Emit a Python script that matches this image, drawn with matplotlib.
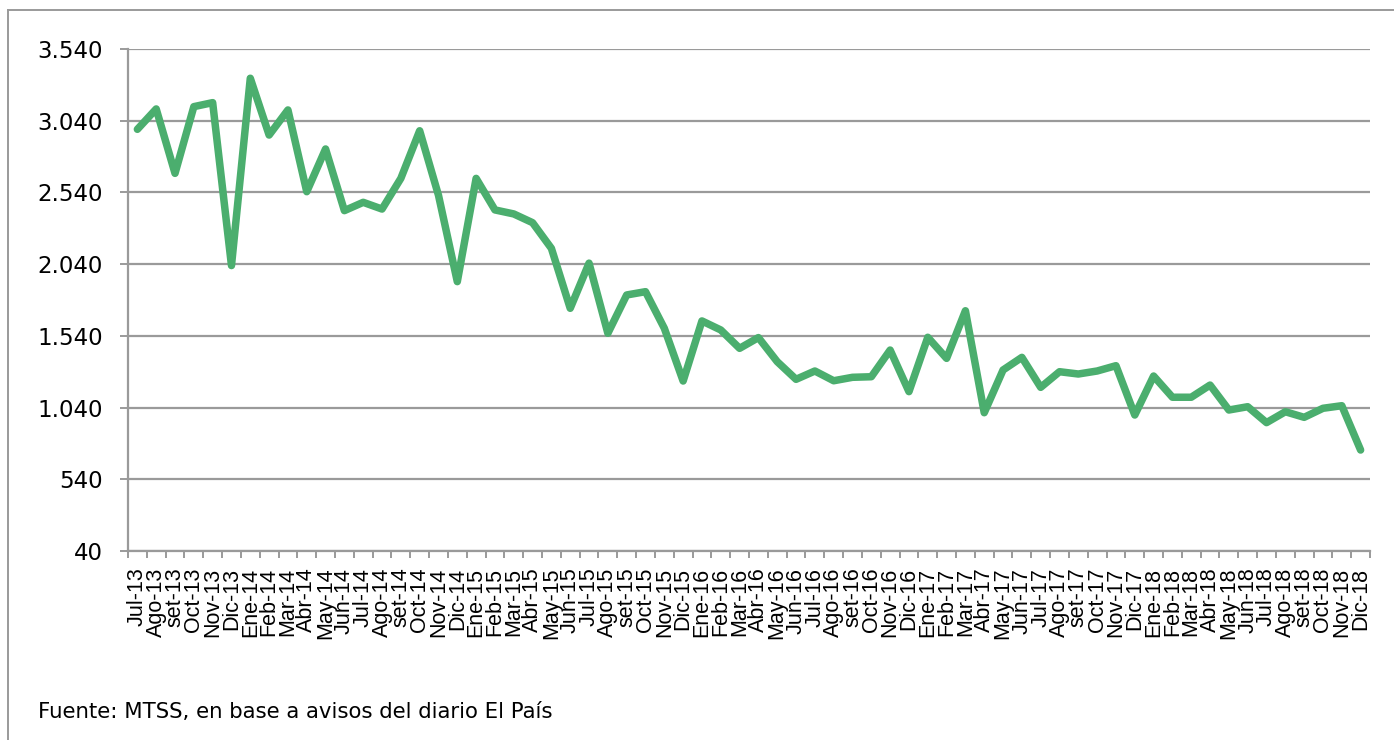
import numpy as np
import matplotlib
matplotlib.use("Agg")
from matplotlib import pyplot as plt
from matplotlib.lines import Line2D

# month labels, Jul-13 .. Dic-18
months = ['Ene', 'Feb', 'Mar', 'Abr', 'May', 'Jun', 'Jul', 'Ago', 'set', 'Oct', 'Nov', 'Dic']
labels = []
for yr in range(13, 19):
    for i, mo in enumerate(months):
        if yr == 13 and i < 6:
            continue
        labels.append('%s-%d' % (mo, yr))

# values
values = [2980, 3122, 2673, 3138, 3166, 2030,
          3336, 2940, 3115, 2545, 2843, 2413, 2471, 2424, 2638, 2970, 2520, 1918,
          2638, 2418, 2390, 2329, 2150, 1732, 2047, 1558, 1825, 1848, 1593, 1225,
          1644, 1581, 1453, 1528, 1360, 1237, 1295, 1227, 1251, 1255, 1441, 1151,
          1530, 1383, 1715, 1004, 1302, 1390, 1181, 1290, 1274, 1295, 1332, 988,
          1260, 1112, 1112, 1197, 1023, 1046, 935, 1011, 972, 1035, 1053, 744]

yticks = [40, 540, 1040, 1540, 2040, 2540, 3040, 3540]
ytick_labels = ['40', '540', '1.040', '1.540', '2.040', '2.540', '3.040', '3.540']

source = 'Fuente: MTSS, en base a avisos del diario El País'

grey = '#9a9a9a'
green = '#4bae6e'

fig = plt.figure(figsize=(13.94, 7.40), dpi=100)
ax = fig.add_axes([0.0918, 0.2554, 0.891, 0.6784])

x = np.arange(len(values))
ax.plot(x, values, color=green, linewidth=5.4, solid_joinstyle='round', solid_capstyle='round', zorder=3)

ax.set_xlim(-0.5, len(values) - 0.5)
ax.set_ylim(40, 3540)

ax.set_yticks(yticks)
ax.set_yticklabels(ytick_labels, fontsize=16.5, fontfamily='DejaVu Sans')
ax.yaxis.grid(True, color=grey, linewidth=1.6)
ax.set_axisbelow(True)

# category ticks between months, labels at months
ax.set_xticks(np.arange(-0.5, len(values), 1.0))
ax.set_xticklabels([])
ax.set_xticks(x, minor=True)
ax.set_xticklabels(labels, minor=True, rotation=90, fontsize=15.5, fontfamily='Liberation Sans')
ax.tick_params(axis='x', which='major', length=5, width=1.4, color=grey, direction='out')
ax.tick_params(axis='x', which='minor', length=0, pad=12)
ax.tick_params(axis='y', length=6, width=1.4, color=grey, pad=12)

for side in ['top', 'right']:
    ax.spines[side].set_visible(False)
for side in ['left', 'bottom']:
    ax.spines[side].set_color(grey)
    ax.spines[side].set_linewidth(1.6)

# outer frame (top and left only)
fig.add_artist(Line2D([8 / 1394, 1.0], [1 - 10 / 740, 1 - 10 / 740], color=grey, linewidth=1.4))
fig.add_artist(Line2D([8 / 1394, 8 / 1394], [0.0, 1 - 10 / 740], color=grey, linewidth=1.4))

fig.text(38 / 1394, 1 - 712 / 740, source, fontsize=15.3, fontfamily='DejaVu Sans', va='center', ha='left')

fig.savefig('out.png', dpi=100)
